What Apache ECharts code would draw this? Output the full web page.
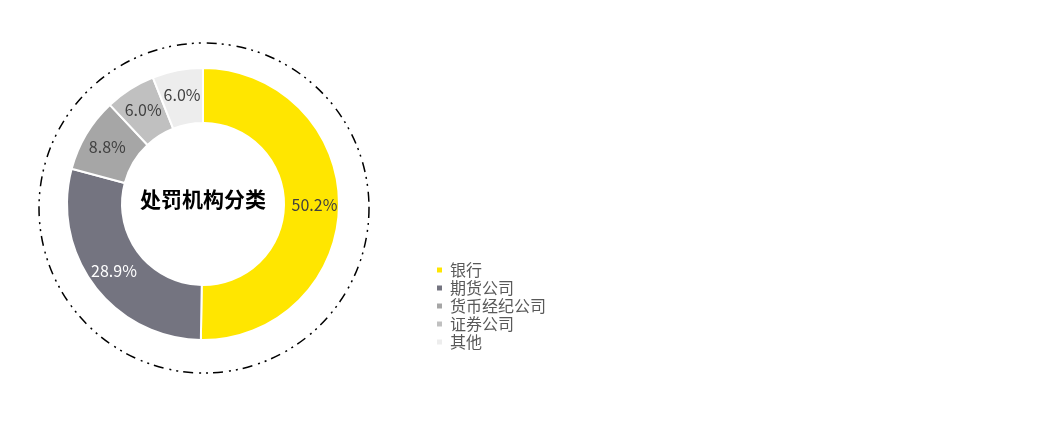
<!DOCTYPE html>
<html>
<head>
<meta charset="utf-8">
<script src="https://cdn.jsdelivr.net/npm/echarts@6/dist/echarts.min.js"></script>
<style>
  html, body { margin: 0; padding: 0; background: #fff; }
  #chart { width: 1040px; height: 421px; }
</style>
</head>
<body>
<div id="chart"></div>
<script>
// 处罚机构分类 data
const categories = ['银行', '期货公司', '货币经纪公司', '证券公司', '其他'];
const shares = [50.2, 28.9, 8.8, 6.0, 6.0];
const sliceColors = ['#FFE600', '#747480', '#A6A6A6', '#C0C0C0', '#EDEDED'];
const labelColors = ['#404040', '#ffffff', '#404040', '#404040', '#404040'];

const centerX = 203;
const centerY = 204;

const chart = echarts.init(document.getElementById('chart'));

const pieData = categories.map((name, i) => ({
    name: name,
    value: shares[i],
    itemStyle: { color: sliceColors[i] },
    label: { color: labelColors[i] }
}));

const option = {
    backgroundColor: '#ffffff',
    animation: false,
    textStyle: { fontFamily: '"Noto Sans CJK SC", "Open Sans", sans-serif' },
    legend: {
        orient: 'vertical',
        left: 430,
        top: 257,
        icon: 'rect',
        itemWidth: 7,
        itemHeight: 7,
        itemGap: 2,
        textStyle: {
            fontSize: 16,
            lineHeight: 16,
            color: '#595959',
            padding: [0, 0, 0, 2]
        },
        data: categories
    },
    graphic: [
        // dash-dot-dot ring around the donut
        {
            type: 'circle',
            shape: { cx: centerX + 1, cy: centerY + 4, r: 165 },
            style: {
                fill: 'none',
                stroke: '#000',
                lineWidth: 1.5,
                lineDash: [10, 5, 2, 5, 2, 6]
            },
            silent: true
        },
        {
            type: 'text',
            x: centerX,
            y: centerY - 5,
            style: {
                text: '处罚机构分类',
                fill: '#000',
                font: 'bold 21px "Noto Sans CJK SC", sans-serif',
                align: 'center',
                verticalAlign: 'middle'
            },
            silent: true
        }
    ],
    series: [
        {
            type: 'pie',
            center: [centerX, centerY],
            radius: [81, 136],
            startAngle: 90,
            clockwise: true,
            avoidLabelOverlap: false,
            itemStyle: {
                borderColor: '#ffffff',
                borderWidth: 2
            },
            label: {
                show: true,
                position: 'inside',
                fontSize: 16,
                formatter: (p) => p.value.toFixed(1) + '%'
            },
            labelLine: { show: false },
            emphasis: { disabled: true },
            data: pieData
        }
    ]
};

chart.setOption(option);
</script>
</body>
</html>
